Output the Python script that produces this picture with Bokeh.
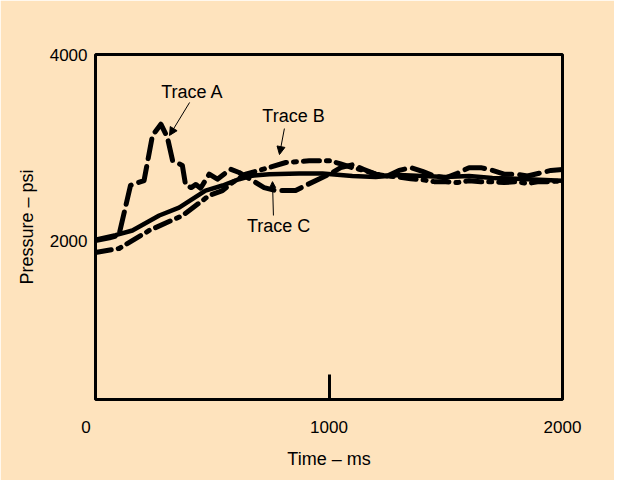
from bokeh.plotting import figure
from bokeh.models import Range1d, FixedTicker, Label, Arrow, NormalHead
from bokeh.embed import file_html
from bokeh.resources import INLINE

# ---- data (time in ms, pressure in psi) ----
trace_a_t = [0, 60, 100, 150, 208, 244, 280, 308, 330, 372, 386, 410, 430, 450, 487, 522,
             578, 615, 686, 722, 771, 857, 900, 1002, 1050, 1100, 1150, 1200, 1250, 1300,
             1350, 1400, 1450, 1500, 1550, 1600, 1650, 1700, 1750, 1800, 1850, 1900, 1950, 2000]
trace_a_p = [2010, 2040, 2064, 2600, 2652, 3134, 3255, 3112, 2866, 2813, 2600, 2577, 2610, 2570,
             2720, 2666, 2773, 2738, 2631, 2577, 2545, 2545, 2600, 2720, 2790, 2820, 2770, 2720,
             2700, 2760, 2790, 2750, 2700, 2680, 2730, 2790, 2790, 2760, 2720, 2720, 2700, 2730,
             2760, 2770]

trace_b_t = [0, 101, 230, 373, 487, 544, 587, 643, 744, 815, 915, 1006, 1050, 1100, 1150, 1200,
             1250, 1300, 1350, 1400, 1450, 1500, 1550, 1600, 1650, 1700, 1750, 1800, 1850, 1900,
             1950, 2000]
trace_b_p = [1882, 1925, 2118, 2278, 2492, 2545, 2631, 2720, 2791, 2845, 2863, 2863, 2830, 2790,
             2760, 2720, 2700, 2690, 2670, 2660, 2640, 2640, 2630, 2650, 2640, 2640, 2630, 2640,
             2620, 2640, 2640, 2650]

trace_c_t = [0, 86, 158, 273, 358, 471, 544, 615, 672, 744, 872, 972, 1100, 1200, 1300, 1400,
             1500, 1600, 1700, 1800, 1900, 2000]
trace_c_p = [2020, 2068, 2118, 2278, 2363, 2545, 2599, 2666, 2704, 2720, 2727, 2727, 2700, 2690,
             2710, 2700, 2690, 2700, 2680, 2670, 2660, 2650]

x_ticks = [0, 1000, 2000]
y_ticks = [2000, 4000]

BG = "#FEE3BD"
FONT = "Liberation Sans"

p = figure(width=614, height=480, output_backend="svg", toolbar_location=None,
           x_range=Range1d(0, 2000), y_range=Range1d(310, 4000),
           min_border_left=95, min_border_right=52, min_border_top=54, min_border_bottom=81)
p.background_fill_color = BG
p.border_fill_color = BG
p.outline_line_color = "black"
p.outline_line_width = 3
p.xgrid.visible = False
p.ygrid.visible = False

# axes
xa = p.xaxis[0]
xa.ticker = FixedTicker(ticks=x_ticks)
# the origin label sits a little left of the corner in the reference
xa.major_label_overrides = {0: "0\u00a0\u00a0\u00a0\u00a0"}
xa.axis_line_color = None
xa.major_tick_in = 25
xa.major_tick_out = 0
xa.major_tick_line_width = 3
xa.major_tick_line_color = "black"
xa.minor_tick_line_color = None
xa.major_label_text_font = FONT
xa.major_label_text_font_size = "17px"
xa.major_label_text_color = "black"
xa.major_label_standoff = 18
xa.axis_label = "Time – ms"
xa.axis_label_text_font = FONT
xa.axis_label_text_font_size = "18px"
xa.axis_label_text_font_style = "normal"
xa.axis_label_text_color = "black"
xa.axis_label_standoff = 9

ya = p.yaxis[0]
ya.ticker = FixedTicker(ticks=y_ticks)
ya.axis_line_color = None
ya.major_tick_in = 0
ya.major_tick_out = 0
ya.minor_tick_line_color = None
ya.major_label_text_font = FONT
ya.major_label_text_font_size = "17px"
ya.major_label_text_color = "black"
ya.major_label_standoff = 8
ya.axis_label = "Pressure – psi"
ya.axis_label_text_font = FONT
ya.axis_label_text_font_size = "18px"
ya.axis_label_text_font_style = "normal"
ya.axis_label_text_color = "black"
ya.axis_label_standoff = 10

# traces
p.line(trace_c_t, trace_c_p, line_color="black", line_width=4.5, line_join="round")
p.line(trace_b_t, trace_b_p, line_color="black", line_width=5, line_dash="16 7 3 7",
       line_cap="round", line_join="round")
p.line(trace_a_t, trace_a_p, line_color="black", line_width=5, line_dash="20 8",
       line_cap="round", line_join="round")

# annotations
lab_kw = dict(text_align="center", text_baseline="middle", text_font=FONT,
              text_font_size="18px", text_color="black")
p.add_layout(Label(x=415, y=3600, text="Trace A", **lab_kw))
p.add_layout(Label(x=848, y=3340, text="Trace B", **lab_kw))
p.add_layout(Label(x=784, y=2171, text="Trace C", **lab_kw))

def head(size=8):
    return NormalHead(size=size, fill_color="black", line_color="black")

p.add_layout(Arrow(x_start=403, y_start=3487, x_end=317, y_end=3134, end=head(),
                   line_color="black", line_width=1))
p.add_layout(Arrow(x_start=809, y_start=3208, x_end=788, y_end=2930, end=head(),
                   line_color="black", line_width=1))
p.add_layout(Arrow(x_start=762, y_start=2278, x_end=758, y_end=2640, end=head(6),
                   line_color="black", line_width=1))

open("out.html", "w").write(file_html(p, INLINE))
